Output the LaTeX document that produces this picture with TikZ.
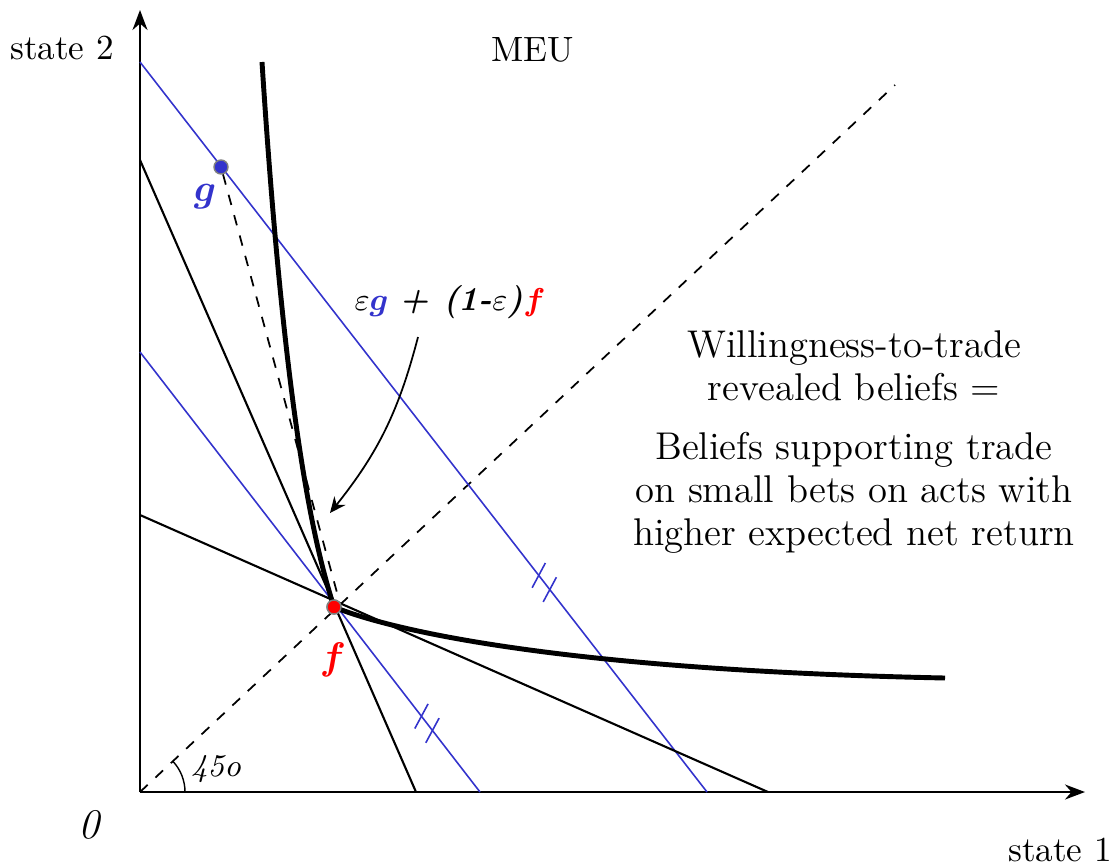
\documentclass[tikz,border=0pt]{standalone}
\usepackage{amsmath,bm}
\usetikzlibrary{arrows.meta,decorations.markings}
\definecolor{myblue}{RGB}{51,51,204}
\tikzset{
  dot/.style={circle, draw=gray, inner sep=0pt, minimum size=0.14cm},
  budget/.style={myblue, line width=0.45pt},
  support/.style={black, line width=0.6pt},
  twoticks/.style={postaction={decorate}, decoration={markings, mark=at position #1 with {
    \draw[myblue, line width=0.45pt] (-0.09,0) ++(-66:0.14) -- ++(114:0.28);
    \draw[myblue, line width=0.45pt] (0.09,0) ++(-66:0.14) -- ++(114:0.28);}}}
}
\begin{document}
\begin{tikzpicture}[>=Stealth]
\useasboundingbox (0,0) rectangle (11.15,8.65);
\coordinate (O) at (1.40,0.73);
\coordinate (xend) at (10.85,0.73);
\coordinate (yend) at (1.40,8.55);
\coordinate (diag) at (8.95,7.80);
\coordinate (bu1) at (1.40,8.03);
\coordinate (bu2) at (7.07,0.73);
\coordinate (bl1) at (1.40,5.13);
\coordinate (bl2) at (4.80,0.73);
\coordinate (ks1) at (1.40,7.05);
\coordinate (ks2) at (4.16,0.73);
\coordinate (kf1) at (1.40,3.50);
\coordinate (kf2) at (7.68,0.73);
\coordinate (ctop) at (2.62,8.03);
\coordinate (cend) at (9.45,1.87);
\draw[->, line width=0.6pt] (O) -- (xend);
\draw[->, line width=0.6pt] (O) -- (yend);
\draw[dashed, line width=0.5pt] (O) -- (diag);
\draw (O) ++(0.45,0) arc[start angle=0, end angle=43, radius=0.45];
\node[font=\small] (deg) at (2.16,0.96) {\textit{45o}};
\draw[budget, twoticks=0.713] (bu1) -- (bu2);
\draw[budget, twoticks=0.844] (bl1) -- (bl2);
\draw[support] (ks1) -- (ks2);
\draw[support] (kf1) -- (kf2);
\node[dot, fill=myblue] (g) at (2.21,6.98) {};
\node[dot, fill=red] (f) at (3.34,2.58) {};
\draw[dashed, line width=0.5pt] (g) -- (f.north east);
\draw[line width=1.4pt] (ctop) .. controls (2.85,4.45) and (3.14,3.20) .. (f.center)
  .. controls (3.90,2.35) and (5.60,1.95) .. (cend);
\node[dot, fill=red] at (f) {};
\node[text=myblue, font=\fontsize{11}{13}\selectfont] (glab) at (2.05,6.68) {$\bm{g}$};
\node[text=red, font=\fontsize{11}{13}\selectfont] (flab) at (3.33,2.05) {$\bm{f}$};
\node[font=\fontsize{9.5}{11}\selectfont] (mix) at (4.50,5.63)
  {$\varepsilon$\textcolor{myblue}{$\bm{g}$} \textbf{\textit{+ (1-}}$\varepsilon$\textbf{\textit{)}}\textcolor{red}{$\bm{f}$}};
\coordinate (mixfoot) at (4.18,5.28);
\coordinate (tip) at (3.30,3.52);
\draw[-{Stealth[length=4.5pt,width=4pt]}, line width=0.5pt] (mixfoot) to[bend left=12] (tip);
\node (s2) at (0.62,8.17) {state 2};
\node (s1) at (10.60,0.15) {state 1};
\node[font=\large] (zero) at (0.90,0.40) {\textit{0}};
\node (meu) at (5.33,8.15) {MEU};
\node[align=center, font=\fontsize{11}{12.2}\selectfont] (belief) at (8.54,4.23)
  {Willingness-to-trade\\revealed beliefs =\\[4.5pt]Beliefs supporting trade\\on small bets on acts with\\higher expected net return};
\end{tikzpicture}
\end{document}
